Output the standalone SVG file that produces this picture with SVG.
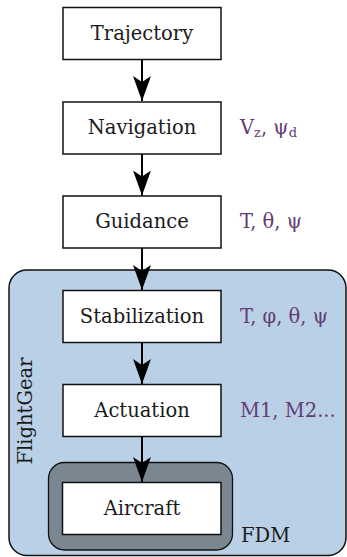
<svg xmlns="http://www.w3.org/2000/svg" width="347" height="557" viewBox="0 0 347 557">
  <defs>
    <style>
      .box { fill: #ffffff; stroke: #111111; stroke-width: 1.5; }
      .lbl { font-family: "DejaVu Serif", "Liberation Serif", serif; font-size: 19.5px; fill: #1a1a1a; text-anchor: middle; }
      .var { font-family: "DejaVu Serif", "Liberation Serif", serif; font-size: 19.5px; fill: #663d72; }
      .sub { font-size: 13px; }
      .edge { stroke: #000000; stroke-width: 2; fill: none; marker-end: url(#head); }
    </style>
    <!-- barbed arrowhead, drawn pointing along +x -->
    <marker id="head" viewBox="0 0 25 18" refX="25" refY="9" markerWidth="25" markerHeight="18" markerUnits="userSpaceOnUse" orient="auto">
      <path d="M25 9 L0 0 L6 9 L0 18 Z" fill="#000000"/>
    </marker>
  </defs>

  <!-- FlightGear simulation container -->
  <g id="flightgear">
    <rect x="9" y="270" width="337" height="285.5" rx="18" ry="18" fill="#b9d0e7" stroke="#111111" stroke-width="1.5"/>
    <text class="lbl" transform="translate(32 411) rotate(-90)">FlightGear</text>
  </g>

  <!-- flight dynamics model wrapper -->
  <g id="fdm">
    <rect x="48.5" y="462.5" width="184" height="87.5" rx="16" ry="16" fill="#7a8690" stroke="#111111" stroke-width="1.3"/>
    <text class="lbl" x="241" y="542" style="text-anchor:start">FDM</text>
  </g>

  <g id="trajectory">
    <rect class="box" x="63" y="7.5" width="158" height="52"/>
    <text class="lbl" x="142" y="40">Trajectory</text>
  </g>

  <g id="navigation">
    <rect class="box" x="63" y="102" width="158" height="52"/>
    <text class="lbl" x="142" y="134">Navigation</text>
    <text class="var" x="240" y="134">V<tspan class="sub" dy="3">z</tspan><tspan dy="-3">, ψ</tspan><tspan class="sub" dy="3">d</tspan></text>
  </g>

  <g id="guidance">
    <rect class="box" x="63" y="196" width="158" height="52"/>
    <text class="lbl" x="142" y="228">Guidance</text>
    <text class="var" x="240" y="228">T, θ, ψ</text>
  </g>

  <g id="stabilization">
    <rect class="box" x="63" y="290.5" width="158" height="52"/>
    <text class="lbl" x="142" y="322.5">Stabilization</text>
    <text class="var" x="240" y="322.5">T, φ, θ, ψ</text>
  </g>

  <g id="actuation">
    <rect class="box" x="63" y="384.5" width="158" height="52"/>
    <text class="lbl" x="142" y="416.5">Actuation</text>
    <text class="var" x="240" y="416.5">M1, M2...</text>
  </g>

  <g id="aircraft">
    <rect class="box" x="62.5" y="482.5" width="158.5" height="52"/>
    <text class="lbl" x="142" y="514.5">Aircraft</text>
  </g>

  <!-- connectors -->
  <g id="connectors">
    <line class="edge" x1="142" y1="59.5" x2="142" y2="101"/>
    <line class="edge" x1="142" y1="154" x2="142" y2="195.5"/>
    <line class="edge" x1="142" y1="248" x2="142" y2="290"/>
    <line class="edge" x1="142" y1="342.5" x2="142" y2="384"/>
    <line class="edge" x1="142" y1="436.5" x2="142" y2="482"/>
  </g>
</svg>
